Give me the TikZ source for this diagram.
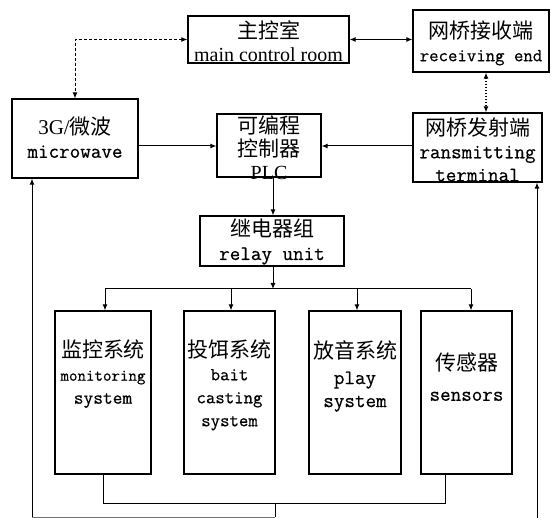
\documentclass[tikz,border=0pt]{standalone}
\usepackage{fontspec}
\setmainfont{Liberation Serif}
\setmonofont{Latin Modern Mono}[FakeBold=0.6]
\newfontfamily\cjk{Noto Sans CJK SC}
\usetikzlibrary{arrows.meta}
\newcommand\zh[1]{{\cjk\fontsize{21}{23}\selectfont #1}}
\newcommand\fs[2]{{\fontsize{#1}{23}\selectfont #2}}
\tikzset{
  box/.style={draw, line width=1.2pt, inner sep=0pt, anchor=center},
  txt/.style={align=center, inner sep=0pt, anchor=center, font=\ttfamily\fontsize{20.5}{23}\selectfont},
  link/.style={line width=1pt, -{Latex[length=6pt,width=5pt]}},
  dlink/.style={line width=1pt, {Latex[length=6pt,width=5pt]}-{Latex[length=6pt,width=5pt]}},
  plain/.style={line width=1pt},
}
\begin{document}
\begin{tikzpicture}[x=1pt,y=-1pt]
\useasboundingbox (0,0) rectangle (555,518);
% boxes
\node[box, minimum width=161pt, minimum height=47pt] (main) at (268.5,39.5) {};
\node[box, minimum width=136pt, minimum height=62pt] (recv) at (481,41) {};
\node[box, minimum width=126pt, minimum height=79pt] (mw) at (75,138.5) {};
\node[box, minimum width=104pt, minimum height=63pt] (plc) at (269,145.5) {};
\node[box, minimum width=129pt, minimum height=69pt] (trans) at (477.5,147.5) {};
\node[box, minimum width=144pt, minimum height=50pt] (relay) at (272,241) {};
\node[box, minimum width=96pt, minimum height=163pt] (s1) at (103,392.5) {};
\node[box, minimum width=91pt, minimum height=163pt] (s2) at (229.5,392.5) {};
\node[box, minimum width=92pt, minimum height=163pt] (s3) at (355,392.5) {};
\node[box, minimum width=91pt, minimum height=163pt] (s4) at (466.5,392.5) {};
% texts
\node[txt] (tmain) at (268.5,41) {\zh{主控室}\\\fs{20}{\rmfamily main control room}};
\node[txt] (trecv) at (481,43) {\zh{网桥接收端}\\\fs{18.3}{receiving end}};
\node[txt] (tmw) at (75,137.5) {\zh{{\rmfamily\fontsize{21}{23}\selectfont 3G/}微波}\\microwave};
\node[txt] (tplc) at (269,147.5) {\zh{可编程}\\\zh{控制器}\\\fs{20}{\rmfamily PLC}};
\node[txt] (ttrans) at (477.5,149.5) {\zh{网桥发射端}\\ransmitting\\terminal};
\node[txt] (trelay) at (272,242) {\zh{继电器组}\\relay unit};
\node[txt] (ts1) at (103,374) {\zh{监控系统}\\\fs{16.5}{monitoring}\\\fs{18.9}{system}};
\node[txt] (ts2) at (229.5,385) {\zh{投饵系统}\\\fs{18.3}{bait}\\\fs{18.3}{casting}\\\fs{18.3}{system}};
\node[txt] (ts3) at (355,376) {\zh{放音系统}\\[3pt]play\\system};
\node[txt] (ts4) at (466.5,377) {\zh{传感器}\\[7pt]sensors};
% helper coordinates
\coordinate (dx) at (486,0);
\coordinate (r1) at (0,146);
\coordinate (cx) at (273,0);
\coordinate (bus) at (0,289);
\coordinate (b1) at (105,289);
\coordinate (b2) at (231,289);
\coordinate (b3) at (357,289);
\coordinate (b4) at (471,289);
\coordinate (k1) at (103,504);
\coordinate (k4) at (445,504);
\coordinate (k0) at (275,504);
\coordinate (bot) at (275,517);
\coordinate (L) at (32,517);
\coordinate (R) at (537,518);
% connectors
\draw[dlink] (main.east) -- (recv.west |- main.east);
\draw[dlink, dashed, dash pattern=on 3pt off 2pt] (main.west) -| (mw.north);
\draw[dlink, dotted, line width=1.3pt] (recv.south -| dx) -- (trans.north -| dx);
\draw[link] (mw.east |- r1) -- (plc.west |- r1);
\draw[link] (trans.west |- r1) -- (plc.east |- r1);
\draw[link] (plc.south -| cx) -- (relay.north -| cx);
\draw[link] (relay.south -| cx) -- (cx |- bus);
\draw[plain] (b1) -- (b4);
\draw[link] (b1) -- (s1.north -| b1);
\draw[link] (b2) -- (s2.north -| b2);
\draw[link] (b3) -- (s3.north -| b3);
\draw[link] (b4) -- (s4.north -| b4);
\draw[plain] (s1.south -| k1) -- (k1) -- (k4) -- (s4.south -| k4);
\draw[plain] (k0) -- (bot);
\draw[line width=0.8pt, black!55] (bot) -- (L);
\draw[link] (L) -- (mw.south -| L);
\draw[link] (R) -- (trans.south -| R);
\end{tikzpicture}
\end{document}
